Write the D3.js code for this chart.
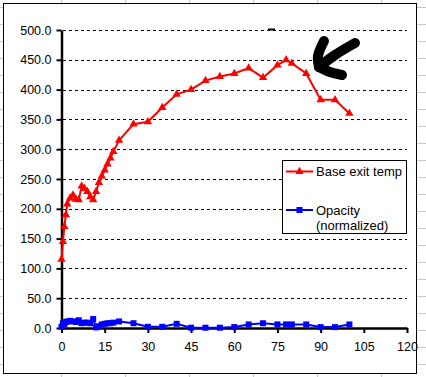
<!DOCTYPE html>
<html>
<head>
<meta charset="utf-8">
<script src="https://cdn.jsdelivr.net/npm/d3@7"></script>
<style>
  body { margin: 0; background: #fff; }
  svg { display: block; font-family: "Liberation Sans", Arial, sans-serif; }
</style>
</head>
<body>
<svg id="chart" width="426" height="377"></svg>
<script>
// time axis (same sample points for both series)
const times = [0, 0.5, 1, 1.5, 2, 3, 4, 5, 6, 7, 8, 9, 10, 11, 12, 13, 14, 15, 16, 17, 18, 20,
    25, 30, 35, 40, 45, 50, 55, 60, 65, 70, 75, 78, 80, 85, 90, 95, 100];
const baseExitTemp = [115, 145, 170, 190, 208, 218, 223, 216, 215, 238, 234, 229, 220, 215, 229, 244, 255, 265, 275, 285, 296, 315,
    342, 346, 370, 392, 400, 415, 422, 427, 436, 420, 441, 450, 444, 427, 383, 383, 360];
const opacity = [2, 8, 6, 10, 11, 12, 11, 10, 13, 8, 9, 9, 8, 15, 1, 3, 6, 7, 8, 8, 9, 11,
    8, 2, 2, 7, 0.5, 0.5, 0.5, 1.5, 6, 8, 6, 6, 6, 6, 1.5, 1.5, 6];
const yTicks = [0, 50, 100, 150, 200, 250, 300, 350, 400, 450, 500];
const xTicks = [0, 15, 30, 45, 60, 75, 90, 105, 120];
const seriesNames = ["Base exit temp", "Opacity\n(normalized)"];

let svg = d3.select('#chart');

// spreadsheet cells peeking out around the chart
let sheet = svg.append('g').attr('stroke', '#c8c8c8').attr('shape-rendering', 'crispEdges');
d3.range(61.5, 426, 64).forEach(x => {
    sheet.append('line').attr('x1', x).attr('x2', x).attr('y1', 0).attr('y2', 377);
});
d3.range(7.5, 377, 17).forEach(y => {
    sheet.append('line').attr('x1', 0).attr('x2', 426).attr('y1', y).attr('y2', y);
});

svg.append('rect')
    .attr('x', 3.5).attr('y', 3.5)
    .attr('width', 413).attr('height', 370)
    .attr('fill', '#fff')
    .attr('stroke', '#000')
    .attr('shape-rendering', 'crispEdges');

let x = d3.scaleLinear().domain([0, 120]).range([61.5, 407]);
let y = d3.scaleLinear().domain([0, 500]).range([328, 30]);

// dashed gridlines
svg.append('g')
    .selectAll('line')
    .data(yTicks.filter(d => d > 0))
    .enter()
    .append('line')
    .attr('x1', x(0) + 1)
    .attr('x2', x(120))
    .attr('y1', d => Math.round(y(d)) + 0.5)
    .attr('y2', d => Math.round(y(d)) + 0.5)
    .attr('stroke', '#000')
    .attr('stroke-dasharray', '3,3')
    .attr('shape-rendering', 'crispEdges');

let yAxis = svg.append('g')
    .attr('transform', `translate(${x(0)},0)`)
    .call(d3.axisLeft(y).tickValues(yTicks).tickFormat(d3.format('.1f')).tickSize(5).tickSizeOuter(0).tickPadding(5));

let xAxis = svg.append('g')
    .attr('transform', `translate(0,${y(0)})`)
    .call(d3.axisBottom(x).tickValues(xTicks).tickSize(5).tickSizeOuter(0).tickPadding(9.5));

[yAxis, xAxis].forEach(ax => {
    ax.select('.domain').attr('stroke', '#000').attr('stroke-width', 2.5);
    ax.selectAll('.tick line').attr('stroke', '#000').attr('stroke-width', 2);
    ax.selectAll('.tick text').attr('fill', '#000').attr('font-size', 12.5).attr('font-family', '"Liberation Sans", Arial, sans-serif');
});

let tri = d3.symbol().type(d3.symbolTriangle).size(30);
let sq = d3.symbol().type(d3.symbolSquare).size(36);

let line = d3.line().x(d => x(d[0])).y(d => y(d[1]));

let series = [
    { name: seriesNames[0], values: baseExitTemp, color: '#ff0000', symbol: tri },
    { name: seriesNames[1], values: opacity, color: '#0000ff', symbol: sq }
];

series.forEach(s => {
    let pts = times.map((t, i) => [t, s.values[i]]);
    svg.append('path')
        .attr('d', line(pts))
        .attr('fill', 'none')
        .attr('stroke', s.color)
        .attr('stroke-width', 2);
    svg.append('g')
        .selectAll('path')
        .data(pts)
        .enter()
        .append('path')
        .attr('d', s.symbol)
        .attr('transform', d => `translate(${x(d[0])},${y(d[1])})`)
        .attr('fill', s.color);
});

// legend
let legend = svg.append('g');
legend.append('rect')
    .attr('x', 282.5).attr('y', 160.5)
    .attr('width', 124).attr('height', 73)
    .attr('fill', '#fff').attr('stroke', '#000')
    .attr('shape-rendering', 'crispEdges');

let legendRows = [171.5, 210];
series.forEach((s, i) => {
    let ly = legendRows[i];
    legend.append('line')
        .attr('x1', 286).attr('x2', 313)
        .attr('y1', ly).attr('y2', ly)
        .attr('stroke', s.color).attr('stroke-width', 2);
    legend.append('path')
        .attr('d', s.symbol)
        .attr('transform', `translate(299.5,${ly})`)
        .attr('fill', s.color);
    let txt = legend.append('text')
        .attr('x', 316)
        .attr('y', ly + 4.5)
        .attr('font-size', 13)
        .attr('fill', '#000');
    s.name.split('\n').forEach((part, j) => {
        txt.append('tspan').attr('x', 316).attr('dy', j === 0 ? 0 : 15).text(part);
    });
});

// hand-drawn arrow pointing at the peak
let arrowStrokes = [
    [[355, 43], [335, 55], [319, 67]],
    [[324, 41], [318, 56], [319, 67]],
    [[319, 67], [330, 72], [342, 75]]
];
let curve = d3.line().curve(d3.curveCatmullRom);
arrowStrokes.forEach(pts => {
    svg.append('path')
        .attr('d', curve(pts))
        .attr('fill', 'none')
        .attr('stroke', '#000')
        .attr('stroke-width', 10)
        .attr('stroke-linecap', 'round')
        .attr('stroke-linejoin', 'round');
});
svg.append('rect').attr('x', 268).attr('y', 28.5).attr('width', 7).attr('height', 2).attr('fill', '#000');
</script>
</body>
</html>
